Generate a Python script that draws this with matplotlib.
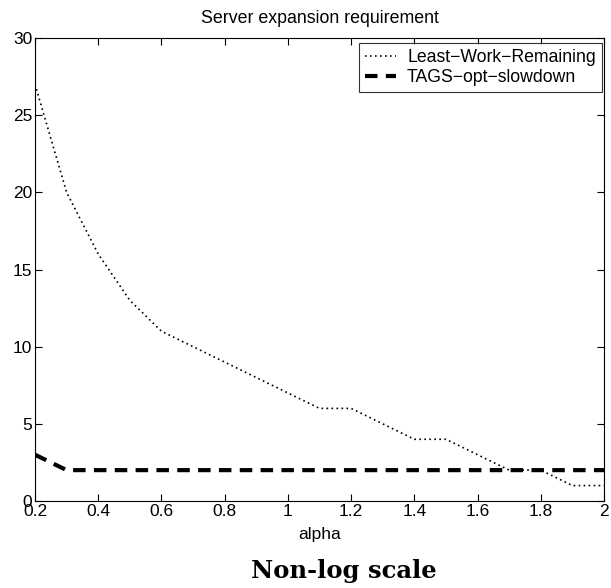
import numpy as np
import matplotlib
matplotlib.use("Agg")
import matplotlib.pyplot as plt

alpha = [0.2, 0.3, 0.4, 0.5, 0.6, 0.7, 0.8, 0.9, 1.0, 1.1,
         1.2, 1.3, 1.4, 1.5, 1.6, 1.7, 1.8, 1.9, 2.0]
lwr = [27, 20, 16, 13, 11, 10, 9, 8, 7, 6,
       6, 5, 4, 4, 3, 2, 2, 1, 1]
tags = [3, 2, 2, 2, 2, 2, 2, 2, 2, 2,
        2, 2, 2, 2, 2, 2, 2, 2, 2]

plt.rcParams['font.family'] = ['Liberation Sans', 'DejaVu Sans']

fig = plt.figure(figsize=(6.11, 5.88), dpi=100)
ax = fig.add_axes([35 / 611, 87 / 588, 569 / 611, 463 / 588])

ax.plot(alpha, lwr, color='black', linestyle=(0, (1, 2)), linewidth=1.2,
        label='Least\u2212Work\u2212Remaining')
ax.plot(alpha, tags, color='black', linestyle=(0, (3, 2)), linewidth=3,
        label='TAGS\u2212opt\u2212slowdown')

ax.set_xlim(0.2, 2)
ax.set_ylim(0, 30)
ax.set_xticks(np.arange(0.2, 2.01, 0.2))
ax.set_xticklabels(['0.2', '0.4', '0.6', '0.8', '1', '1.2', '1.4', '1.6', '1.8', '2'])
ax.set_yticks([0, 5, 10, 15, 20, 25, 30])
ax.tick_params(direction='in', top=True, right=True, labelsize=12.5, length=5, pad=2)
ax.set_xlabel('alpha', fontsize=12.5, labelpad=6)
ax.set_title('Server expansion requirement', fontsize=12.8, pad=10.5)

leg = ax.legend(loc='upper right', bbox_to_anchor=(0.9965, 0.989), fontsize=12.7,
                frameon=True, fancybox=False, edgecolor='black', borderaxespad=0,
                handlelength=1.75, handletextpad=0.65, borderpad=0.35,
                labelspacing=0.15)
leg.get_frame().set_linewidth(0.8)

fig.text(344 / 611, 10 / 588, 'Non-log scale', ha='center', va='baseline',
         fontsize=17.5, fontweight='bold', family=['DejaVu Serif'])

fig.savefig('out.png', dpi=100)
